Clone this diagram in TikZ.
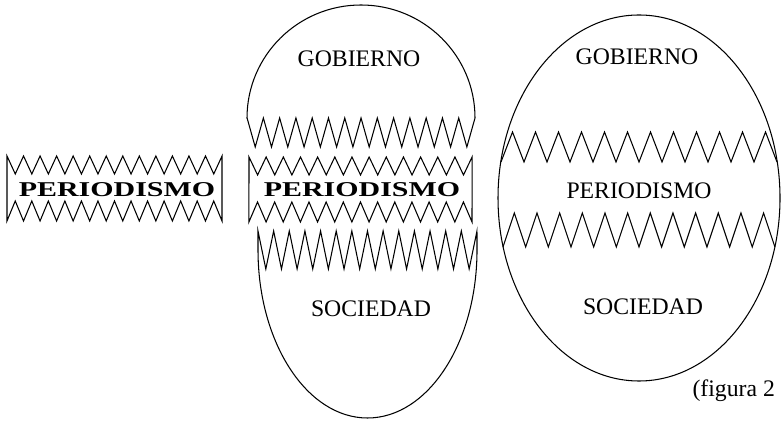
\documentclass[tikz,border=0pt]{standalone}
\usepackage{graphicx}
\usepackage{fontspec}
\setmainfont{Liberation Serif}

\begin{document}
\begin{tikzpicture}[x=0.02cm, y=-0.02cm, every path/.style={line width=.6pt, line join=miter},
        lbl/.style={inner sep=0pt, font=\fontsize{13.5}{16}\selectfont},
        boxlbl/.style={inner sep=0pt, font=\fontsize{12}{14}\selectfont\bfseries}]
    \useasboundingbox (0,0) rectangle (783,421);
    % pieza suelta
    \draw (7,156) \foreach \i in {1,...,13} {-- ++(8.27,18) -- ++(8.27,-18)} -- (222,221)
          \foreach \i in {1,...,13} {-- ++(-8.27,-20) -- ++(-8.27,20)} -- cycle;
    \node[boxlbl] (per0) at (117,190) {\scalebox{1.42}[1]{PERIODISMO}};
    % huevo partido
    \draw (247,118) arc[start angle=180, end angle=360, x radius=114, y radius=113]
          \foreach \i in {1,...,14} {-- ++(-8.14,29) -- ++(-8.14,-29)} -- cycle;
    \draw (249,157) \foreach \i in {1,...,13} {-- ++(8.58,18) -- ++(8.58,-18)} -- (472,222)
          \foreach \i in {1,...,13} {-- ++(-8.58,-20) -- ++(-8.58,20)} -- cycle;
    \draw (258,231) \foreach \i in {1,...,14} {-- ++(7.82,38) -- ++(7.82,-38)} -- (477,250)
          arc[start angle=0, end angle=180, x radius=109.5, y radius=168] -- cycle;
    \node[lbl] (gob1) at (359,59) {GOBIERNO};
    \node[boxlbl] (per1) at (362,190) {\scalebox{1.42}[1]{PERIODISMO}};
    \node[lbl] (soc1) at (371,309) {SOCIEDAD};
    % huevo entero
    \draw (639,198) ellipse [x radius=141, y radius=183];
    \draw (501,162) \foreach \i in {1,...,12} {-- ++(11.5,-30) -- ++(11.5,30)};
    \draw (503,247) \foreach \i in {1,...,12} {-- ++(11.33,-34) -- ++(11.33,34)};
    \node[lbl] (gob2) at (637,57) {GOBIERNO};
    \node[lbl] (per2) at (639,191) {PERIODISMO};
    \node[lbl] (soc2) at (643,307) {SOCIEDAD};
    \node[lbl, anchor=west] (fig) at (692,391) {(figura 2};
\end{tikzpicture}
\end{document}
